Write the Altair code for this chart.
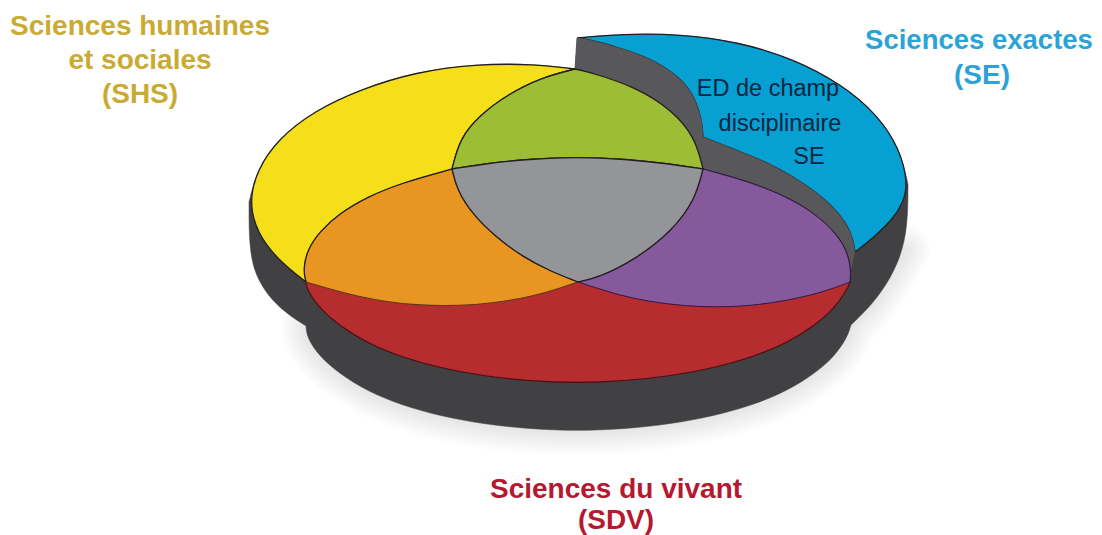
import altair as alt
import pandas as pd

# Outline arcs (x, y in picture pixels)
yellow_left = [(306,282),(278,260),(257,233),(249,202),(257,170),(278,139),(314,111),(361,89),(416,72),(475,64),(534,64),(575,69)]
yellow_up_left = [(249,202),(257,170),(278,139),(314,111),(361,89),(416,72),(475,64),(534,64),(575,69)]
yellow_right = [(575,69),(589,72),(636,87),(672,110),(695,137),(703,169)]
yellow_lower_right = [(703,169),(695,200),(672,231),(636,259),(600,277),(578,282)]
yellow_bottom = [(578,282),(534,297),(475,306),(416,306),(361,298),(306,282)]
blue_left_top = [(575,69),(540,78),(507,95),(480,115),(460,138),(452,169)]
blue_left_low = [(452,169),(457,190),(473,215),(497,238),(523,257),(550,271),(578,282)]
red_top_left = [(306,282),(303,270),(307,250),(320,231),(340,213),(367,197),(401,183),(452,169)]
red_top_mid = [(452,169),(483,164),(529,159),(577,157),(625,159),(671,164),(703,169)]
red_top_right = [(703,169),(714,172),(753,183),(787,197),(814,213),(834,231),(847,250),(851,270),(850,282)]
red_bottom = [(850,282),(847,290),(834,309),(814,326),(787,343),(753,357),(714,368),(671,376),(625,381),(577,383),(529,381),(483,376),(440,368),(401,357),(367,343),(340,326),(320,309),(307,290),(306,282)]
purple_bottom = [(578,282),(621,296),(657,303),(698,307),(739,307),(780,302),(821,293),(850,282)]
blue_outer = [(577,38),(621,34),(680,34),(739,42),(794,59),(841,84),(877,114),(900,149),(908,184),(903,203),(893,219),(873,238),(855,252)]
blue_outer_top = [(577,38),(621,34),(680,34),(739,42),(794,59),(841,84),(877,114),(900,149),(908,184)]
blue_inner_right = [(855,252),(852,233),(837,210),(810,187),(770,163),(730,148),(703,137)]
blue_inner_left = [(703,137),(702,120),(693,93),(677,75),(650,58),(617,47),(587,39),(577,38)]
wall_right = [(855,252),(851,270)]
wall_left = [(575,69),(577,38)]
body_right = [(908,184),(908,224),(900,262),(877,300),(851,325)]
body_sdv = [(851,325),(847,338),(834,357),(814,374),(787,391),(753,405),(714,416),(671,424),(625,429),(577,431),(529,429),(483,424),(440,416),(401,405),(367,391),(340,374),(320,357),(307,338),(306,326)]
body_shs = [(306,326),(278,308),(257,281),(249,250),(249,202)]
shadow_right = [(905,250),(877,300),(851,325)]

labels = ["Sciences humaines","et sociales","(SHS)","Sciences exactes","(SE)","Sciences du vivant","(SDV)","ED de champ","disciplinaire","SE"]
label_x = [140,140,140,979,982,616,616,768,780,809]
label_y = [27,61,95,41,76,490,521,89,124,157]
label_size = [28,28,28,27.5,28,28,28,23.5,23.5,23.5]
label_color = ["#c9ab33"]*3+["#2ba3d6"]*2+["#b5182f"]*2+["#0a2540"]*3
label_weight = ["bold"]*7+["normal"]*3

X = alt.X("x:Q", scale=alt.Scale(domain=[8,1094], nice=False, zero=False), axis=None)
Y = alt.Y("y:Q", scale=alt.Scale(domain=[543,8], nice=False, zero=False), axis=None)

def frame(pts):
    return pd.DataFrame({"x":[p[0] for p in pts],"y":[p[1] for p in pts],"i":range(len(pts))})

def join(arcs):
    pts = []
    for a in arcs:
        pts += [a[0]]*2 + list(a) + [a[-1]]*2
    return pts + [arcs[0][0]]*3

def shape(arcs, fill, stroke="#231f20", sw=1.3):
    return alt.Chart(frame(join(arcs))).mark_line(interpolate="basis", fill=fill, stroke=stroke, strokeWidth=sw, filled=False).encode(x=X, y=Y, order="i:Q")

shadow_path = shadow_right + body_sdv
shadows = [alt.Chart(frame(shadow_path)).mark_line(interpolate="basis", stroke="#000000", strokeWidth=w, opacity=0.012, strokeCap="round").encode(x=X, y=Y, order="i:Q") for w in (50,44,38,32,26,20,14,8)]

layers = shadows + [
    shape([yellow_up_left[::-1], wall_left, blue_outer_top, body_right, body_sdv, body_shs], "#414042", "#414042", 0.5),
    shape([blue_outer, blue_inner_right, blue_inner_left], "#06a0d2"),
    shape([wall_left, blue_inner_left[::-1], blue_inner_right[::-1], wall_right, red_top_right[:-1][::-1], yellow_right[::-1]], "#58585a", "#58585a", 0.5),
    shape([red_top_right, red_bottom, red_top_left, red_top_mid], "#b72c2e", "#4a0d12", 1.1),
    shape([red_top_right, purple_bottom[::-1], yellow_lower_right[::-1]], "#85599c", "#2b1a45", 1.0),
    shape([red_top_left, blue_left_low, yellow_bottom], "#e99522", "#5a3a18", 1.1),
    shape([yellow_left, blue_left_top, red_top_left[::-1]], "#f4df1a"),
    shape([yellow_right, red_top_mid[::-1], blue_left_top[::-1]], "#9dbd34"),
    shape([red_top_mid, yellow_lower_right, blue_left_low[::-1]], "#939598"),
]

texts = pd.DataFrame({"x":label_x,"y":label_y,"t":labels,"c":label_color,"s":label_size,"w":label_weight})
for w in ("bold","normal"):
    for s in sorted(set(label_size)):
        d = texts[(texts.w==w)&(texts.s==s)]
        if len(d):
            layers.append(alt.Chart(d).mark_text(font="Liberation Sans", fontWeight=w, fontSize=s, align="center", baseline="middle").encode(
                x=X, y=Y, text="t:N", color=alt.Color("c:N", scale=None)))

chart = alt.layer(*layers).properties(width=1086, height=535, padding=0, autosize=alt.AutoSizeParams(type="none")).configure_view(stroke=None)
chart.save("out.html", embed_options={"renderer":"svg","actions":False})
